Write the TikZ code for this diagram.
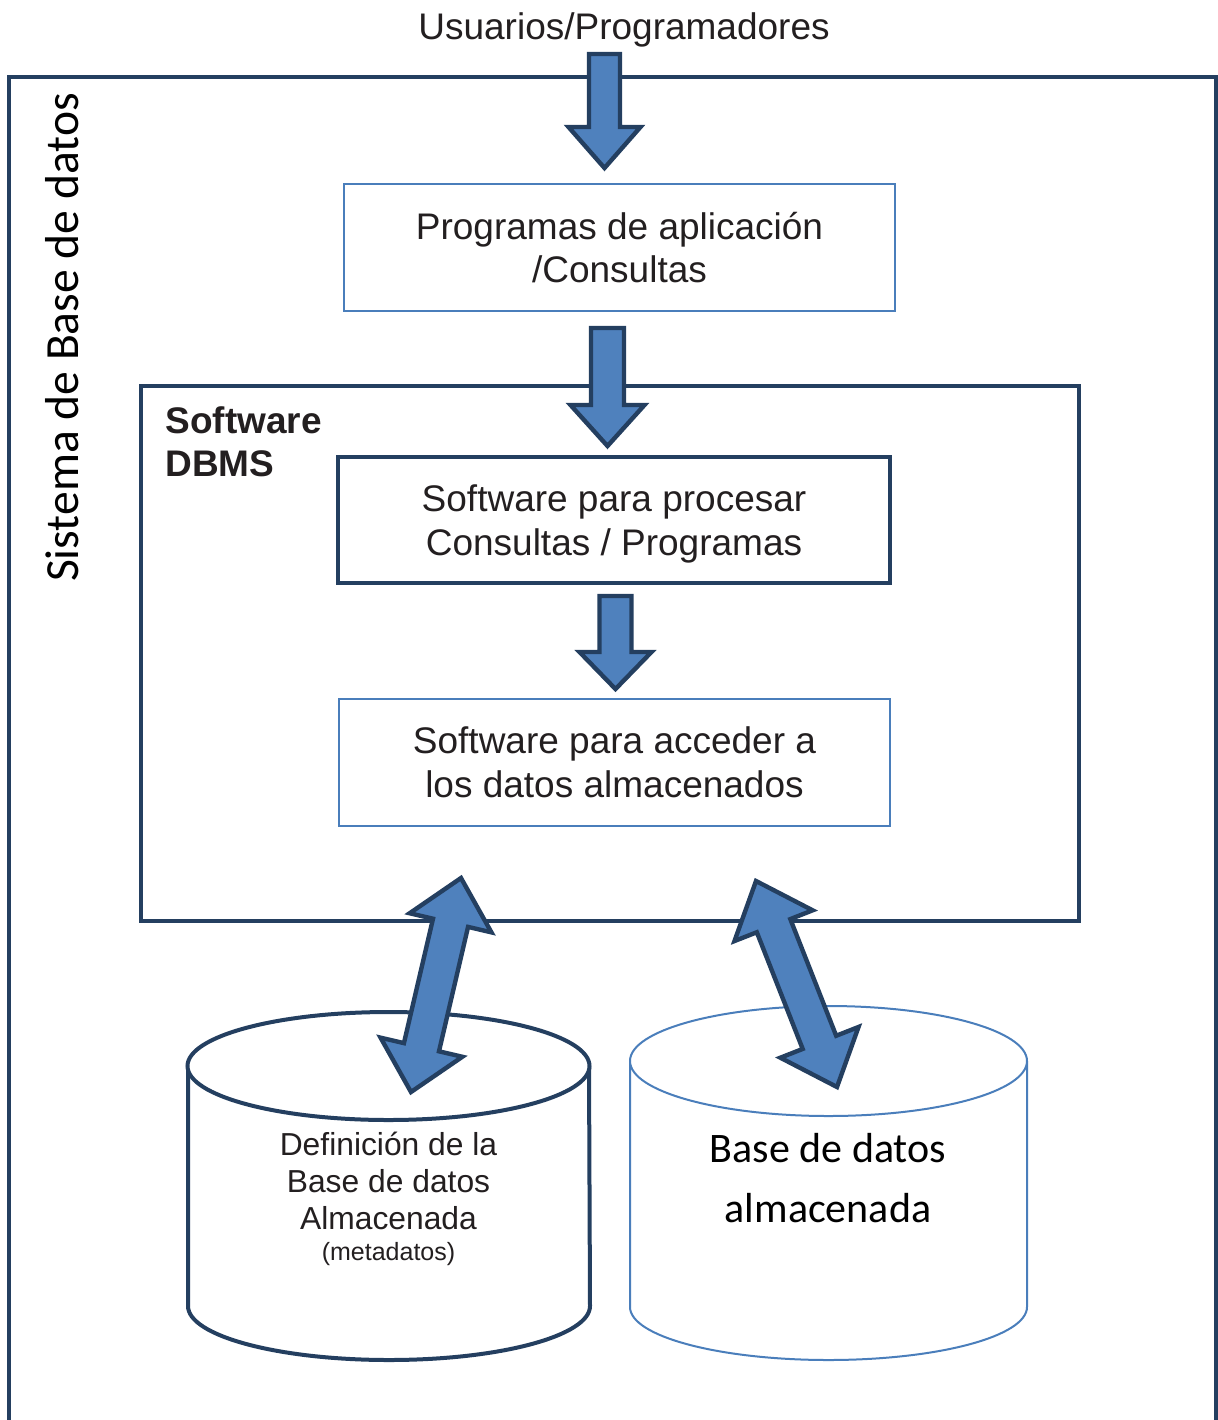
\documentclass[tikz,border=0pt]{standalone}
\usepackage{fontspec}
\setmainfont{Liberation Sans}
\newfontfamily\calibri{Carlito}
\usetikzlibrary{calc}

\definecolor{navy}{HTML}{243F60}
\definecolor{arrowfill}{HTML}{4F81BD}
\definecolor{thinblue}{HTML}{4A7EBB}
\definecolor{ink}{HTML}{231F20}

\tikzset{
  thinbox/.style={draw=thinblue, line width=1pt, fill=white, align=center, inner sep=0pt,
    text=ink, font=\fontsize{18.5}{21.75}\selectfont},
  thickbox/.style={draw=navy, line width=2pt, fill=white, align=center, inner sep=0pt,
    text=ink, font=\fontsize{18.5}{21.75}\selectfont},
  blockarrowstyle/.style={draw=navy, fill=arrowfill, line width=2.2pt, line join=miter},
}

% single block arrow: tail, tip, half shaft width, half head width, head length
\newcommand{\blockarrow}[5]{%
  \coordinate (ba-h) at ($(#2)!#5!(#1)$);
  \draw[blockarrowstyle]
    ($(#1)!#3!90:(#2)$) -- ($(ba-h)!#3!90:(#2)$) -- ($(ba-h)!#4!90:(#2)$) -- (#2)
    -- ($(ba-h)!#4!-90:(#2)$) -- ($(ba-h)!#3!-90:(#2)$) -- ($(#1)!#3!-90:(#2)$) -- cycle;
}
% double block arrow: end A, end B, half shaft width, half head width, head length
\newcommand{\doubleblockarrow}[5]{%
  \coordinate (da-a) at ($(#1)!#5!(#2)$);
  \coordinate (da-b) at ($(#2)!#5!(#1)$);
  \draw[blockarrowstyle]
    (#1) -- ($(da-a)!#4!90:(#2)$) -- ($(da-a)!#3!90:(#2)$) -- ($(da-b)!#3!90:(#2)$)
    -- ($(da-b)!#4!90:(#2)$) -- (#2) -- ($(da-b)!#4!-90:(#2)$) -- ($(da-b)!#3!-90:(#2)$)
    -- ($(da-a)!#3!-90:(#2)$) -- ($(da-a)!#4!-90:(#2)$) -- cycle;
}

\begin{document}
\begin{tikzpicture}[x=0.5pt, y=-0.5pt]
\useasboundingbox (0,0) rectangle (1218,1420);

% outer frame of the database system
\draw[navy, line width=2pt] (9,1422) -- (9,77) -- (1216,77) -- (1216,1422);
\node[rotate=90, inner sep=0pt, font=\calibri\fontsize{23.8}{28}\selectfont] (sys) at (62.5,337.5) {Sistema de Base de datos};

\node[anchor=base, inner sep=0pt, text=ink, font=\fontsize{18.5}{22}\selectfont] (users) at (624,39.5) {Usuarios/Programadores};

\node[thinbox, minimum width=275.5pt, minimum height=63.5pt] (apps) at (619.5,247.5) {Programas de aplicación\\/Consultas};

% DBMS software block
\node[draw=navy, line width=2pt, minimum width=469pt, minimum height=267.5pt, inner sep=0pt] (dbms) at (610,653.5) {};
\node[anchor=north west, align=left, inner sep=0pt, text=ink, font=\bfseries\fontsize{18.5}{21.5}\selectfont] (dbmslabel) at (165,406) {Software\\DBMS};

\node[thickbox, minimum width=276pt, minimum height=63pt] (proc) at (614,520) {\rule{0pt}{17.5pt}Software para procesar\\Consultas / Programas};
\node[thinbox, minimum width=275.5pt, minimum height=63.5pt] (access) at (614.5,762.5) {Software para acceder a\\los datos almacenados};

% stored metadata cylinder
\draw[navy, line width=2pt, fill=white] (188,1066) -- (188,1306)
  arc[start angle=180, end angle=360, x radius=100.5pt, y radius=27pt] -- (589,1066);
\draw[navy, line width=2pt, fill=white] (388.5,1066) ellipse[x radius=100.5pt, y radius=27pt];
\node[align=center, inner sep=0pt, text=ink, font=\fontsize{15.9}{18.5}\selectfont] (meta) at (388.5,1198.5)
  {Definición de la\\Base de datos\\Almacenada\\[-3pt]{\fontsize{12.5}{15.5}\selectfont (metadatos)}};

% stored database cylinder
\draw[thinblue, line width=1pt, fill=white] (630,1061) -- (630,1307)
  arc[start angle=180, end angle=360, x radius=99.25pt, y radius=26.5pt] -- (1027,1061);
\draw[thinblue, line width=1pt, fill=white] (828.5,1061) ellipse[x radius=99.25pt, y radius=27.5pt];
\node[align=center, inner sep=0pt, font=\calibri\fontsize{21}{30}\selectfont] (stored) at (828,1178)
  {Base de datos\\almacenada};

% flow arrows
\coordinate (a1tail) at (604.5,54);  \coordinate (a1tip) at (604.5,168);
\coordinate (a2tail) at (607.5,328); \coordinate (a2tip) at (607.5,446);
\coordinate (a3tail) at (615.5,596); \coordinate (a3tip) at (615.5,689);
\blockarrow{a1tail}{a1tip}{7.75pt}{18pt}{20.5pt}
\blockarrow{a2tail}{a2tip}{8.25pt}{18.5pt}{20.5pt}
\blockarrow{a3tail}{a3tip}{8pt}{18pt}{18.5pt}

\coordinate (d1a) at (461,878);  \coordinate (d1b) at (411,1092);
\coordinate (d2a) at (756,881);  \coordinate (d2b) at (837,1087);
\doubleblockarrow{d1a}{d1b}{9pt}{21pt}{23pt}
\doubleblockarrow{d2a}{d2b}{9pt}{21pt}{24pt}
\end{tikzpicture}
\end{document}
